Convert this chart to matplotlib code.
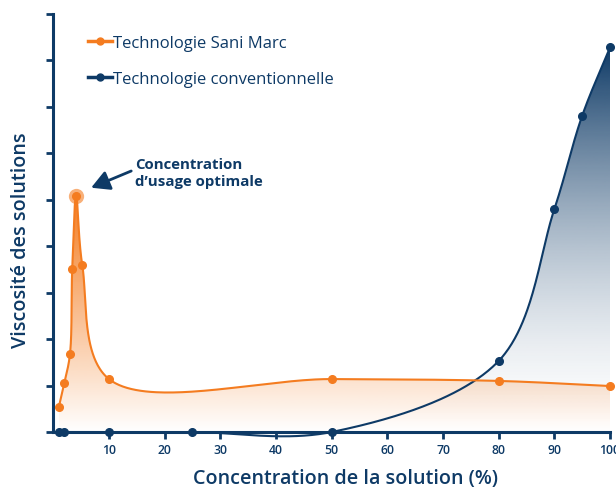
import numpy as np
import matplotlib.pyplot as plt
from matplotlib.patches import Polygon
from matplotlib.lines import Line2D
from matplotlib.colors import to_rgb

plt.rcParams['font.family'] = ['Open Sans', 'DejaVu Sans']

# Data (y in arbitrary tick units)
conc_sani = [1, 2, 3, 3.4, 4.1, 5.2, 10, 50, 80, 100]
visc_sani = [0.54, 1.06, 1.68, 3.51, 5.09, 3.6, 1.14, 1.14, 1.1, 0.99]
conc_conv = [1, 2, 10, 25, 50, 80, 90, 95, 100]
visc_conv = [0, 0, 0, 0, 0, 1.53, 4.8, 6.81, 8.28]
optimum = (4.1, 5.09)

xticks = [10, 20, 30, 40, 50, 60, 70, 80, 90, 100]
yticks = list(range(10))

ORANGE = '#f47c20'
NAVY = '#0e3a66'


# centripetal catmull-rom, done in screen-ish units so the curve looks right
def smooth(xs, ys, n=80):
    sx, sy = 5.57, 46.4
    P = np.column_stack([np.asarray(xs, float) * sx, np.asarray(ys, float) * sy])
    P = np.vstack([2 * P[0] - P[1], P, 2 * P[-1] - P[-2]])
    out = []
    for i in range(1, len(P) - 2):
        p0, p1, p2, p3 = P[i - 1:i + 3]
        t0 = 0.0
        t1 = t0 + np.linalg.norm(p1 - p0) ** 0.5
        t2 = t1 + np.linalg.norm(p2 - p1) ** 0.5
        t3 = t2 + np.linalg.norm(p3 - p2) ** 0.5
        t = np.linspace(t1, t2, n)[:, None]
        A1 = (t1 - t) / (t1 - t0) * p0 + (t - t0) / (t1 - t0) * p1
        A2 = (t2 - t) / (t2 - t1) * p1 + (t - t1) / (t2 - t1) * p2
        A3 = (t3 - t) / (t3 - t2) * p2 + (t - t2) / (t3 - t2) * p3
        B1 = (t2 - t) / (t2 - t0) * A1 + (t - t0) / (t2 - t0) * A2
        B2 = (t3 - t) / (t3 - t1) * A2 + (t - t1) / (t3 - t1) * A3
        C = (t2 - t) / (t2 - t1) * B1 + (t - t1) / (t2 - t1) * B2
        out.append(C)
    C = np.vstack(out)
    return C[:, 0] / sx, C[:, 1] / sy


def grad_fill(ax, x, y, color, top, power, zorder):
    verts = [(x[0], 0)] + list(zip(x, y)) + [(x[-1], 0)]
    poly = Polygon(verts, closed=True, facecolor='none', edgecolor='none')
    ax.add_patch(poly)
    h = 300
    img = np.zeros((h, 1, 4))
    img[:, :, :3] = to_rgb(color)
    img[:, 0, 3] = np.linspace(0, 1, h) ** power
    im = ax.imshow(img, aspect='auto', extent=[x.min(), x.max(), 0, top],
                   origin='lower', zorder=zorder, interpolation='bilinear')
    im.set_clip_path(poly)


fig = plt.figure(figsize=(6.16, 4.89), dpi=100)
ax = fig.add_axes([0.0865, 0.1145, 0.9038, 0.8548])

xs_s, ys_s = smooth(conc_sani, visc_sani)
xs_c, ys_c = smooth(conc_conv, visc_conv)

grad_fill(ax, xs_c, ys_c, NAVY, max(visc_conv), 1.6, 1)
grad_fill(ax, xs_s, ys_s, ORANGE, optimum[1], 1.0, 2)

ax.plot(xs_c, ys_c, color=NAVY, lw=1.5, zorder=3, clip_on=False)
ax.plot(conc_conv, visc_conv, 'o', color=NAVY, ms=5.5, zorder=4, clip_on=False)
ax.plot(xs_s, ys_s, color=ORANGE, lw=1.5, zorder=5, clip_on=False)
ax.plot(conc_sani, visc_sani, 'o', color=ORANGE, ms=5.5, zorder=6, clip_on=False)
ax.plot(*optimum, 'o', color=ORANGE, ms=11, alpha=0.6, zorder=6, mec='none')

ax.set_xlim(0, 100)
ax.set_ylim(0, 9)
ax.set_xticks(xticks)
ax.set_xticklabels([str(v) for v in xticks])
ax.set_yticks(yticks)
ax.set_yticklabels([])

for s in ['top', 'right']:
    ax.spines[s].set_visible(False)
for s in ['left', 'bottom']:
    ax.spines[s].set_color(NAVY)
    ax.spines[s].set_linewidth(2.2)
ax.tick_params(axis='both', colors=NAVY, length=5, width=2)
ax.tick_params(axis='x', labelsize=8.8, pad=3)
for lab in ax.get_xticklabels():
    lab.set_fontweight('semibold')

ax.set_xlabel('Concentration de la solution (%)', fontsize=14.2,
              fontweight='semibold', color=NAVY)
ax.set_ylabel('Viscosité des solutions', fontsize=14.2,
              fontweight='semibold', color=NAVY)
ax.xaxis.set_label_coords(0.524, -0.086)
ax.yaxis.set_label_coords(-0.040, 0.462)

handles = [Line2D([], [], color=ORANGE, lw=2.5, marker='o', ms=5),
           Line2D([], [], color=NAVY, lw=2.5, marker='o', ms=5)]
leg = ax.legend(handles, ['Technologie Sani Marc', 'Technologie conventionnelle'],
                loc='upper left', bbox_to_anchor=(0.035, 0.985), frameon=False,
                fontsize=12, handlelength=1.45, handletextpad=0.05,
                labelspacing=1.2)
for t in leg.get_texts():
    t.set_color(NAVY)

ax.text(14.7, 5.59, 'Concentration\nd\u2019usage optimale', fontsize=10.8,
        fontweight='bold', color=NAVY, ha='left', va='center', linespacing=1.3)
ax.annotate('', xy=(6.8, 5.26), xytext=(14.0, 5.62),
            arrowprops=dict(arrowstyle='-|>,head_length=1.1,head_width=0.6',
                            color=NAVY, lw=2, shrinkA=0, shrinkB=0))

fig.savefig('out.png', dpi=100)
